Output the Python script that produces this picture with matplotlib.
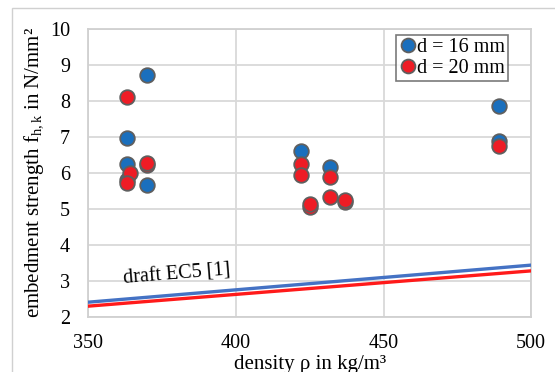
import matplotlib
matplotlib.use("Agg")
import matplotlib.pyplot as plt
from matplotlib.patches import Rectangle

plt.rcParams['font.family'] = ['Liberation Serif', 'DejaVu Serif']
plt.rcParams['mathtext.fontset'] = 'custom'
plt.rcParams['mathtext.rm'] = 'Liberation Serif'
plt.rcParams['mathtext.it'] = 'Liberation Serif:italic'

# test data, d = 16 mm
rho16 = [370, 363, 363, 363, 370, 422, 432, 489, 489]
fh16 = [8.73, 6.98, 6.25, 5.80, 5.66, 6.62, 6.18, 7.85, 6.88]
# test data, d = 20 mm
rho20 = [363, 370, 370, 364, 363, 422, 422, 432, 425, 425, 432, 437, 437, 489]
fh20 = [8.12, 6.22, 6.27, 6.01, 5.73, 6.24, 5.93, 5.89, 5.05, 5.14, 5.32, 5.20, 5.25, 6.75]

# draft EC5 lines
rho_ec5 = [350, 500]
ec5_16 = [2.41, 3.44]
ec5_20 = [2.30, 3.28]

fig = plt.figure(figsize=(5.55, 3.72), dpi=100)
ax = fig.add_axes([0.159, 0.148, 0.798, 0.774])

fig.patches.append(Rectangle((12/555, -0.1), 1.2, 1.1 - 8/372, transform=fig.transFigure,
                             fill=False, edgecolor='#d0d0d0', linewidth=1.0))

ax.plot(rho_ec5, ec5_16, color='#4472c4', linewidth=2.4, zorder=3)
ax.plot(rho_ec5, ec5_20, color='#ff1a1a', linewidth=2.4, zorder=3)

ax.plot(rho16, fh16, 'o', color='#1a6fbd', markeredgecolor='#5f5f5f', markeredgewidth=1.3,
        markersize=10.5, label='d = 16 mm', zorder=4)
ax.plot(rho20, fh20, 'o', color='#ee1c25', markeredgecolor='#5f5f5f', markeredgewidth=1.3,
        markersize=10.5, label='d = 20 mm', zorder=5)

ax.text(362, 2.92, 'draft EC5 [1]', fontsize=14.5, rotation=4.6, rotation_mode='anchor')

ax.set_xlim(350, 500)
ax.set_ylim(2, 10)
ax.set_xticks([350, 400, 450, 500])
ax.set_yticks(range(2, 11))
ax.grid(True, color='#d9d9d9', linewidth=1.3)
ax.set_axisbelow(True)
for s in ax.spines.values():
    s.set_color('#d0d0d0')
    s.set_linewidth(1.3)
ax.tick_params(length=0, labelsize=14.5)
ax.tick_params(axis='x', pad=12)
ax.tick_params(axis='y', pad=13)

ax.set_xlabel('density ρ in kg/m³', fontsize=15, labelpad=2)
ax.set_ylabel('embedment strength f$_{\\mathrm{h,k}}$ in N/mm²', fontsize=15, labelpad=3)

leg = ax.legend(loc='upper right', bbox_to_anchor=(0.948, 0.978), fontsize=14.5, frameon=True,
                fancybox=False, handletextpad=0.0, handlelength=0.9, borderpad=0.15,
                labelspacing=0.05, markerscale=0.95, borderaxespad=0)
leg.get_frame().set_edgecolor('#595959')
leg.get_frame().set_linewidth(1.2)

fig.savefig('out.png', dpi=100)
